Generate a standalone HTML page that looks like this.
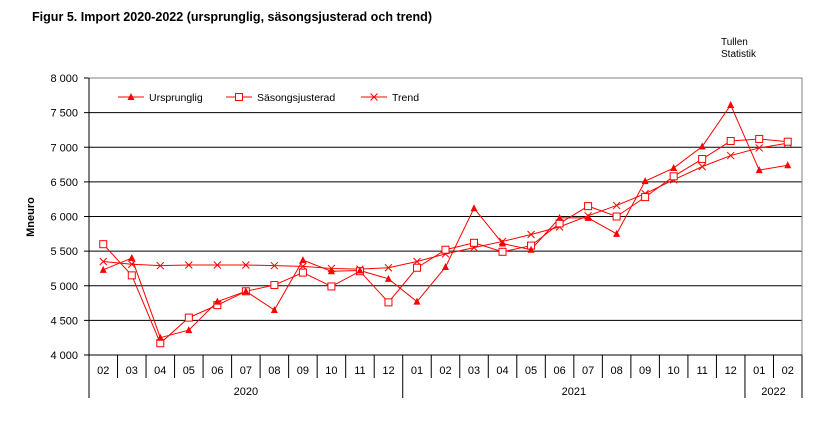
<!DOCTYPE html>
<html><head><meta charset="utf-8"><style>
body{margin:0;background:#fff;width:832px;height:416px;overflow:hidden}
svg text{font-family:"Liberation Sans",sans-serif}
</style></head><body>
<svg id="s" width="832" height="416" xmlns="http://www.w3.org/2000/svg">
<text x="32" y="21" font-size="12.5" font-weight="bold" textLength="400" lengthAdjust="spacingAndGlyphs">Figur  5. Import 2020-2022 (ursprunglig, säsongsjusterad och trend)</text>
<text x="721" y="45" font-size="10">Tullen</text>
<text x="721" y="57" font-size="10">Statistik</text>
<text x="34" y="217" font-size="11" font-weight="bold" transform="rotate(-90 34 217)" text-anchor="middle">Mneuro</text>
<g id="g"></g>
</svg>
<script>
const g=document.getElementById('g');let h='';
const X0=89,X1=802,Y0=78,Y1=355,n=25,w=(X1-X0)/n;
const Y=v=>Y1-(v-4000)*(Y1-Y0)/4000,X=i=>X0+w*(i+0.5);
for(let k=0;k<=8;k++){const y=Y(4000+k*500);
 if(k>0&&k<8)h+=`<line x1="${X0}" y1="${y}" x2="${X1}" y2="${y}" stroke="#000" stroke-width="1"/>`;
 h+=`<line x1="84" y1="${y}" x2="${X0}" y2="${y}" stroke="#000"/>`;
 h+=`<text x="78" y="${y+4}" font-size="11" text-anchor="end">${(4000+k*500).toString().replace(/(\d)(\d{3})$/,'$1 $2')}</text>`;}
h+=`<rect x="${X0}" y="${Y0}" width="${X1-X0}" height="${Y1-Y0}" fill="none" stroke="#808080"/>`;
h+=`<line x1="${X0}" y1="${Y1}" x2="${X1}" y2="${Y1}" stroke="#000"/><line x1="${X0}" y1="${Y0}" x2="${X0}" y2="${Y1}" stroke="#000"/>`;
const m=['02','03','04','05','06','07','08','09','10','11','12','01','02','03','04','05','06','07','08','09','10','11','12','01','02'];
for(let i=0;i<=n;i++){const x=X0+w*i;const yr=(i==0||i==11||i==23||i==25);
 h+=`<line x1="${x}" y1="${Y1}" x2="${x}" y2="${yr?398:378}" stroke="#000"/>`;}
m.forEach((t,i)=>h+=`<text x="${X(i)}" y="374" font-size="11" text-anchor="middle">${t}</text>`);
h+=`<text x="${X0+w*5.5}" y="395" font-size="11" text-anchor="middle">2020</text><text x="${X0+w*17}" y="395" font-size="11" text-anchor="middle">2021</text><text x="${X0+w*24}" y="395" font-size="11" text-anchor="middle">2022</text>`;
const U=[5230,5400,4250,4360,4770,4920,4650,5370,5210,5220,5100,4770,5270,6120,5610,5520,5980,5980,5750,6510,6700,7010,7610,6670,6740];
const S=[5600,5150,4170,4540,4720,4920,5010,5190,4990,5210,4760,5260,5520,5620,5490,5580,5900,6150,6000,6280,6580,6830,7090,7120,7080];
const T=[5350,5310,5290,5300,5300,5300,5290,5280,5250,5240,5260,5350,5460,5550,5640,5740,5850,6010,6160,6330,6530,6720,6880,6990,7060];
const pl=a=>`<polyline fill="none" stroke="red" stroke-width="1" points="${a.map((v,i)=>X(i)+','+Y(v)).join(' ')}"/>`;
h+=pl(T)+pl(S)+pl(U);
const tri=(x,y)=>`<polygon points="${x},${y-4} ${x-3.5},${y+3} ${x+3.5},${y+3}" fill="red"/>`;
const sq=(x,y)=>`<rect x="${x-3.5}" y="${y-3.5}" width="7" height="7" fill="#fff" stroke="red"/>`;
const cr=(x,y)=>`<path d="M${x-3.5} ${y-3.5}L${x+3.5} ${y+3.5}M${x+3.5} ${y-3.5}L${x-3.5} ${y+3.5}" stroke="red"/>`;
T.forEach((v,i)=>h+=cr(X(i),Y(v)));S.forEach((v,i)=>h+=sq(X(i),Y(v)));U.forEach((v,i)=>h+=tri(X(i),Y(v)));
const L=[[118,'Ursprunglig',tri],[226,'Säsongsjusterad',sq],[361,'Trend',cr]];
L.forEach(([x,t,f])=>{h+=`<line x1="${x}" y1="97" x2="${x+26}" y2="97" stroke="red"/>`+f(x+13,97)+`<text x="${x+31}" y="101" font-size="10.5">${t}</text>`;});
g.innerHTML=h;
</script>
</body></html>
